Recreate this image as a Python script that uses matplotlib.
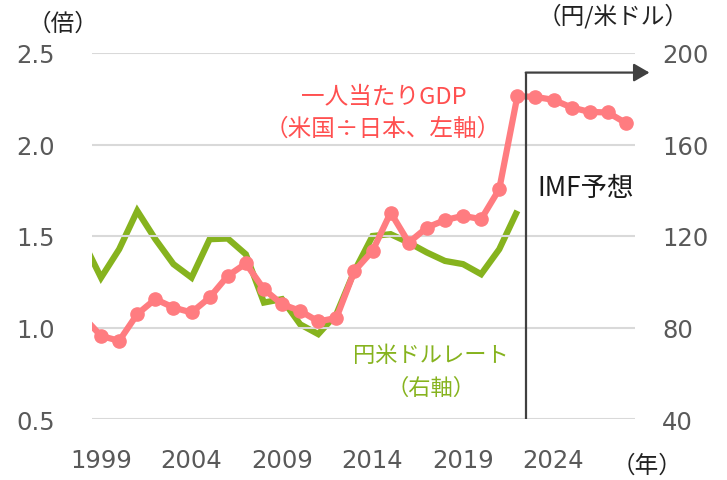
import matplotlib
matplotlib.use("Agg")
import matplotlib.pyplot as plt
import numpy as np

plt.rcParams['font.family'] = ['Noto Sans CJK JP', 'DejaVu Sans']

# ---- data ----
years_gdp = list(range(1998, 2029))
gdp_ratio = [1.06, 0.954, 0.927, 1.073, 1.155, 1.109, 1.082, 1.164, 1.282, 1.350,
             1.209, 1.127, 1.091, 1.033, 1.052, 1.309, 1.419, 1.628, 1.464, 1.546,
             1.587, 1.610, 1.592, 1.756, 2.264, 2.260, 2.244, 2.202, 2.178, 2.175,
             2.117]
years_fx = list(range(1998, 2023))
fx_rate = [117.8, 101.8, 114.2, 131.0, 118.6, 107.7, 101.8, 118.6, 118.9, 112.0,
           90.9, 92.4, 81.4, 77.1, 85.8, 104.7, 120.0, 120.8, 117.1, 112.8,
           109.1, 107.7, 103.3, 114.2, 131.0]
xticks = [1999, 2004, 2009, 2014, 2019, 2024]
left_ticks = [0.5, 1.0, 1.5, 2.0, 2.5]
right_ticks = [40, 80, 120, 160, 200]
forecast_start = 2022.5

RED = '#FF7C80'
RED_TXT = '#FF5050'
GREEN = '#86B31E'
GRAY = '#595959'

W, H = 727, 481
fig = plt.figure(figsize=(W / 100, H / 100), dpi=100)
ax = fig.add_axes([92 / W, 1 - 420 / H, (635 - 92) / W, (420 - 54) / H])
ax2 = ax.twinx()

ax.set_xlim(1998.5, 2028.5)
ax.set_ylim(0.5, 2.5)
ax2.set_ylim(40, 200)

for y in left_ticks:
    ax.axhline(y, color='#D9D9D9', lw=1.5, zorder=0)

ax.plot(years_gdp, gdp_ratio, color=RED, lw=4.5, marker='o', ms=9.5,
        solid_capstyle='round', zorder=3)
ax2.plot(years_fx, fx_rate, color=GREEN, lw=4.5, solid_joinstyle='miter',
         solid_capstyle='butt', zorder=3)
ax.set_zorder(ax2.get_zorder() + 1)
ax.patch.set_visible(False)

# forecast marker
arrow_y = 2.393
ax.plot([forecast_start, forecast_start], [0.5, arrow_y], color='#404040',
        lw=1.6, zorder=4, clip_on=False, solid_capstyle='butt')
ax.annotate('', xy=(2029.3, arrow_y), xytext=(forecast_start - 0.04, arrow_y),
            arrowprops=dict(arrowstyle='-|>,head_length=0.95,head_width=0.55',
                            color='#404040', lw=1.6, shrinkA=0, shrinkB=0),
            annotation_clip=False, zorder=4)

for a in (ax, ax2):
    for s in a.spines.values():
        s.set_visible(False)

ax.set_xticks(xticks)
ax.set_xticklabels([str(x) for x in xticks])
ax.set_yticks(left_ticks)
ax.set_yticklabels([f'{v:.1f}' for v in left_ticks])
ax2.set_yticks(right_ticks)
ax2.set_yticklabels([str(v) for v in right_ticks])
ax.tick_params(axis='x', length=0, pad=21, labelsize=17.5, labelcolor=GRAY)
ax.tick_params(axis='y', length=0, pad=26.5, labelsize=17.5, labelcolor=GRAY)
ax2.tick_params(axis='y', length=0, pad=19.5, labelsize=17.5, labelcolor=GRAY)
for lab in ax.get_xticklabels() + ax.get_yticklabels() + ax2.get_yticklabels():
    lab.set_fontfamily('DejaVu Sans')

def ftext(px, py, s, **kw):
    fig.text(px / W, 1 - py / H, s, **kw)

ftext(63, 24, '（倍）', ha='center', va='center', fontsize=17, color='#222222')
ftext(613, 16, '（円/米ドル）', ha='center', va='center', fontsize=17, color='#222222')
ftext(647, 466, '（年）', ha='center', va='center', fontsize=17, color='#222222')
ftext(384, 98, '一人当たりGDP', ha='center', va='center', fontsize=17, color=RED_TXT)
ftext(383, 129, '（米国÷日本、左軸）', ha='center', va='center', fontsize=17, color=RED_TXT)
ftext(431, 356, '円米ドルレート', ha='center', va='center', fontsize=16, color=GREEN)
ftext(431, 388, '（右軸）', ha='center', va='center', fontsize=16, color=GREEN)
ftext(586, 188, 'IMF予想', ha='center', va='center', fontsize=19, color='#1a1a1a')

fig.savefig('out.png', dpi=100)
